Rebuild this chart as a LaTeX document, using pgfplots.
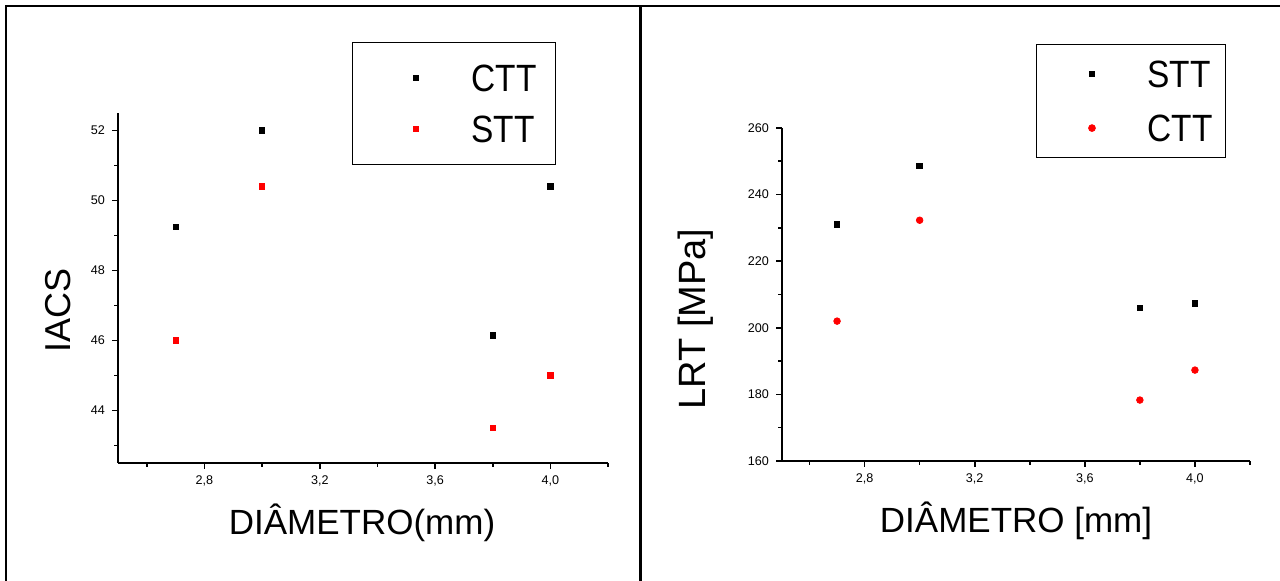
\documentclass[border=0pt]{standalone}
\usepackage{fontspec}
\setmainfont{Liberation Sans}
\newfontfamily\legfont[FakeStretch=0.88]{Liberation Sans}
\usepackage{pgfplots}
\pgfplotsset{compat=1.18}

\definecolor{ptred}{RGB}{255,0,0}

\pgfplotsset{
  panel/.style={
    scale only axis,
    anchor=south west,
    axis x line*=bottom,
    axis y line*=left,
    axis line style={line width=0.8pt},
    tick style={line width=0.8pt, black},
    tick align=outside,
    major tick length=3pt,
    minor tick length=1.8pt,
    xmin=2.5, xmax=4.2,
    xtick={2.8,3.2,3.6,4.0},
    minor xtick={2.6,3.0,3.4,3.8,4.2},
    /pgf/number format/assume math mode=true,
    tick label style={font=\fontsize{6.3}{7}\selectfont},
    xticklabel style={/pgf/number format/.cd, use comma, fixed, fixed zerofill, precision=1},
    label style={font=\fontsize{17.5}{20}\selectfont},
    legend cell align=left,
    clip=false,
  },
  legbox/.style={
    legend style={
      anchor=north west, draw=black, line width=0.5pt,
      font=\legfont\fontsize{19}{21}\selectfont,
      nodes={inner sep=0pt, text height=13.6pt, text depth=0pt},
    },
  },
}

\begin{document}
\begin{tikzpicture}
\path[use as bounding box] (0pt,0pt) rectangle (640pt,-290.5pt);

% frame
\draw[line width=1pt] (3pt,-3.25pt) -- (640pt,-3.25pt);
\draw[line width=1pt] (3pt,-2.75pt) -- (3pt,-290.5pt);
\draw[line width=1.5pt] (320pt,-3.25pt) -- (320pt,-290.5pt);

% left panel
\begin{axis}[
  panel, legbox,
  at={(59pt,-231.5pt)},
  width=245pt, height=175pt,
  ymin=42.5, ymax=52.5,
  ytick={44,46,48,50,52},
  minor ytick={43,45,47,49,51},
  xlabel={DIÂMETRO(mm)},
  ylabel={IACS},
  xlabel style={at={(axis description cs:0.498,-0.2057)}, anchor=base},
  ylabel style={at={(axis description cs:-0.1224,0.437)}, anchor=center, font=\fontsize{18}{20}\selectfont},
  legend style={at={(axis description cs:0.4776,1.202)},
    inner xsep=9.5pt, inner ysep=10.9pt, row sep=11.9pt, column sep=5.5pt},
  legend image code/.code={\path (0pt,-3pt) (44pt,3pt); \draw[#1,only marks] plot coordinates {(22pt,0pt)};},
]
\addplot[black, only marks, mark=square*, mark size=1.35pt, mark options={draw=none, fill=black}]
  coordinates {(2.7,49.25) (3.0,52.0) (3.8,46.15) (4.0,50.4)};
\addlegendentry{CTT}
\addplot[ptred, only marks, mark=square*, mark size=1.35pt, mark options={draw=none, fill=ptred}]
  coordinates {(2.7,46.0) (3.0,50.4) (3.8,43.5) (4.0,45.0)};
\addlegendentry{STT}
\end{axis}

% right panel
\begin{axis}[
  panel, legbox,
  at={(391pt,-230.5pt)},
  width=234pt, height=166.5pt,
  ymin=160, ymax=260,
  ytick={160,180,200,220,240,260},
  minor ytick={170,190,210,230,250},
  xlabel={DIÂMETRO [mm]},
  ylabel={LRT [MPa]},
  xlabel style={at={(axis description cs:0.5,-0.2162)}, anchor=base},
  ylabel style={at={(axis description cs:-0.1838,0.426)}, anchor=center, font=\fontsize{19}{21}\selectfont},
  legend style={at={(axis description cs:0.5427,1.2523)},
    inner xsep=6.5pt, inner ysep=8pt, row sep=13.4pt, column sep=6.5pt},
  legend image code/.code={\path (0pt,-3pt) (42pt,3pt); \draw[#1,only marks] plot coordinates {(21pt,0pt)};},
]
\addplot[black, only marks, mark=square*, mark size=1.4pt, mark options={draw=none, fill=black}]
  coordinates {(2.7,231.0) (3.0,248.6) (3.8,206.0) (4.0,207.3)};
\addlegendentry{STT}
\addplot[ptred, only marks, mark=*, mark size=1.65pt, mark options={draw=none, fill=ptred}]
  coordinates {(2.7,202.0) (3.0,232.3) (3.8,178.3) (4.0,187.3)};
\addlegendentry{CTT}
\end{axis}
\end{tikzpicture}
\end{document}
